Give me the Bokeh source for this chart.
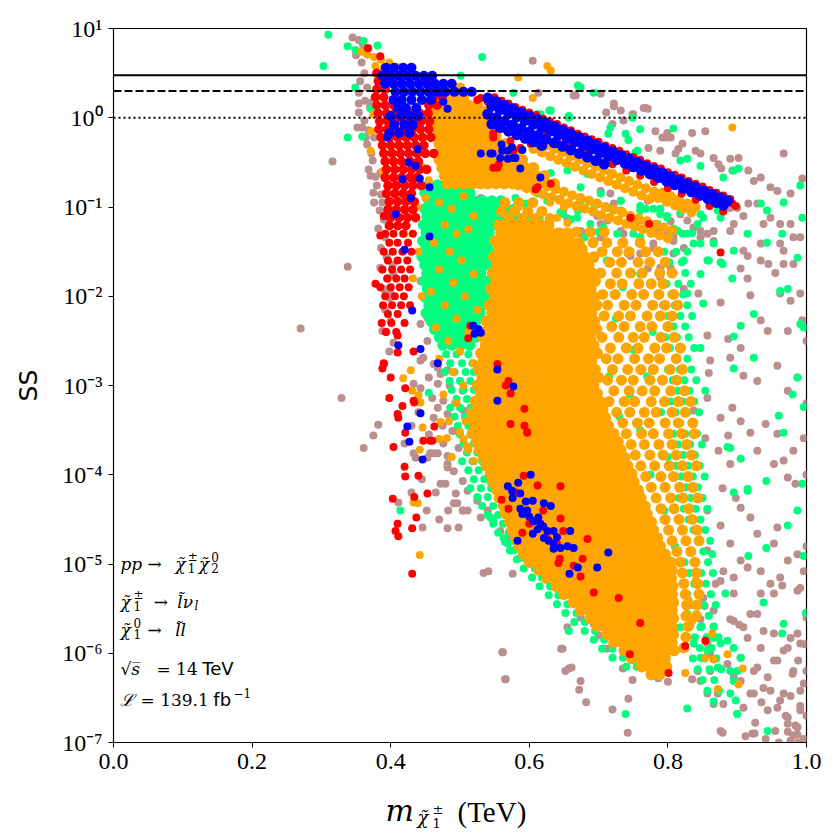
from bokeh.plotting import figure
from bokeh.models import Range1d, FixedTicker, CustomJSTickFormatter, Span, Label
from bokeh.layouts import column
from bokeh.embed import file_html
from bokeh.resources import INLINE

# ---------------- axis / reference data ----------------
X_TICKS = [0.0, 0.2, 0.4, 0.6, 0.8, 1.0]
X_TICK_LABELS = ["0.0", "0.2", "0.4", "0.6", "0.8", "1.0"]
Y_TICKS = [1e-7, 1e-6, 1e-5, 1e-4, 1e-3, 1e-2, 1e-1, 1e0, 1e1]
Y_TICK_LABELS = ["10\u207b\u2077", "10\u207b\u2076", "10\u207b\u2075", "10\u207b\u2074",
                 "10\u207b\u00b3", "10\u207b\u00b2", "10\u207b\u00b9", "10\u2070", "10\u00b9"]
REF_LEVELS = [3.0, 2.0, 1.0]
REF_DASHES = ["solid", "8 3", "2 3"]

COLORS = {"brown": "#BC8F8F", "green": "#00FF7F", "orange": "#FFA500",
          "red": "#FF0000", "blue": "#0000FF"}

# Points: "x:e" -> mass x/1000 TeV, SS = 10**(e/100)
# Rows:   "e|x x x" -> all x/1000 TeV at SS = 10**(e/100)

BROWN_PTS = """
345:90 354:87 360:82 368:78 350:70 358:62 362:50 356:41 366:34 354:28 363:19 370:12 354:6 362:-3 359:-11
368:-14 376:-22 366:-30 372:-40 374:-48 368:-58 378:-66 380:-76 386:-86 376:-95 384:-104 390:-114 382:-124
392:-134 386:-146 394:-156 388:-170 396:-180 390:-192 398:-202 392:-215 400:-228 394:-240 404:-252 398:-262
316:-49 338:-167 270:-236 329:-314 382:-344 375:-356 361:-370
354:16 372:17 375:8 352:-11 364:-22 371:-65 388:-95 375:-84 385:-62 385:-168 404:-175 388:-239 403:-165
395:-180 400:-197 453:-250 530:-90 519:-93 496:-82 482:-56 468:-112 472:-130 468:-179 469:-190 457:-197
482:-141 468:-152 443:-183 453:-224 443:-231 511:-22 519:-29 496:-37 532:-52 547:-63 577:-101 558:-108
605:64 613:28 667:25 703:27 722:16 732:8 711:6 749:4 768:11 771:10 782:-15 799:-17 797:-22 835:-17 854:-15
821:-29 840:-37 847:-40 772:-34 789:-37 811:-40 866:-45 873:-52 877:-57 890:-46 902:-45 893:-59 916:-59
934:-67 967:-40 994:-68 977:-85 958:-82 948:-78 924:-71 916:-96 929:-96 909:-110 890:-101 900:-101 938:-119
948:-112 962:-119 977:-119 981:-134 991:-134 962:-141 967:-149 934:-141 909:-149 915:-155 934:-160 895:-119
890:-127 866:-127 847:-134 837:-123 828:-115 808:-134 785:-127 789:-132 703:-119 678:-129 750:-119 760:-115
655:-113 967:-164 981:-164
664:25 722:13 765:11 720:-7 736:-3 750:4 792:-22 804:-22 815:-35 703:-82 717:-85 732:-93 771:-93 835:-101
857:-130 779:-146 760:-152 746:-155 698:-110 674:-127 736:-130 713:-115 732:-127 760:-134 742:-152 703:-134
808:-138 823:-146 847:-127 866:-138 818:-108 804:-116 649:-104 693:-104 722:-96 693:-138 674:-130 779:-141
799:-130 771:-169 789:-168 804:-168 808:-152
789:-179 808:-197 823:-192 844:-197 857:-244 861:-272 859:-286 876:-207 887:-248 905:-169 915:-180 919:-199
945:-164 955:-174 962:-197 977:-205 991:-197 994:-227 934:-227 944:-239 973:-239 905:-258 890:-269 909:-289
929:-295 958:-278 973:-306 987:-291 996:-359 893:-325 876:-336 905:-340 887:-356 873:-373 890:-388 919:-353
941:-343 958:-354 929:-373 953:-388 967:-384 981:-373 984:-410 973:-403 879:-415 898:-426 876:-457 905:-437
919:-448 929:-466 890:-477 905:-496 880:-508 869:-522 958:-459 953:-477 973:-496 962:-515 987:-489 996:-508
991:-527 953:-533 929:-556 909:-571 938:-575 973:-594 987:-578 953:-608 929:-616 905:-631 919:-645 880:-657
857:-645 876:-687 944:-664 962:-653 973:-679 987:-691 991:-664 996:-634 980:-623 861:-601 843:-620 851:-538
857:-485 857:-440 854:-359 837:-328 857:-314
948:-642 977:-648 991:-659 970:-670 984:-681 955:-687 996:-696 977:-698 941:-696 912:-693 926:-678 991:-642
1000:-670 935:-655 925:-690 960:-700 988:-700 1000:-620 1000:-560 1000:-480 1000:-400 1000:-320 1000:-250 998:-590
576:-511 562:-599 565:-629 646:-595 657:-617 661:-616 672:-641 682:-655 720:-663 743:-651 749:-630 742:-689
866:-657 879:-689 922:-690 909:-661 895:-627 872:-645 924:-645 938:-639 958:-661 973:-672 987:-683
973:-688 981:-692 967:-645 924:-620 944:-627 958:-608 981:-620 991:-589 953:-578 934:-594 905:-605
886:-612 861:-620 847:-631 835:-629 857:-589 895:-564 915:-583 967:-597 977:-583 988:-608 876:-519 895:-515
915:-504 934:-508 948:-522 965:-524 934:-533 987:-530 895:-533 866:-552 919:-556 890:-562 903:-568 853:-547
847:-562
587:-493 612:-504 635:-515 645:-527 674:-560 693:-567 722:-586 750:-605 771:-605 558:-463 569:-471 530:-448
540:-440 525:-429 534:-510 541:-508 561:-599 648:-595 652:-620 566:-629 674:-631 655:-571 496:-432
511:-440 483:-440 504:-440 472:-410 479:-410 494:-421 482:-392 462:-376 482:-379 436:-381 446:-459 482:-460
498:-459 411:-431 760:-608 771:-616 700:-580 712:-595 735:-617 786:-628 800:-632
447:-269 462:-276 455:-291 468:-298 472:-287 482:-283 460:-314 468:-325 462:-336 476:-317 482:-332 491:-351
476:-365 468:-376 457:-376 482:-388 491:-396 504:-407 511:-418 504:-440 491:-432 489:-351 493:-320
504:-306 505:-328 433:-376 453:-381 443:-272 468:-280 433:-298 443:-303 485:-300 475:-345 455:-355 498:-370
440:-330 430:-345 420:-365 445:-405 465:-420 430:-420 452:-440 470:-450
"""

GREEN_DENSE_ROWS = """
-75|455 468 481 494 507
-84|449 462 475 488 501 514
-93|455 468 481 494 507 520 533 546 559
-102|449 462 475 488 501 514 527 540 553 566 579
-111|452 465 478 491 504 517 530 543 556 569 582 595
-120|447 460 473 486 499 512 525 538 551 564 577 590
-129|451 464 477 490 503 516 529 542
-138|446 459 472 485 498 511 524 537
-147|450 463 476 489 502 515 528 541
-156|445 458 471 484 497 510 523 536
-165|449 462 475 488 501 514 527 540
-174|452 465 478 491 504 517 530
-183|448 461 474 487 500 513 526 539
-192|453 466 479 492 505 518 531
-201|449 462 475 488 501 514 527 540
-210|455 468 481 494 507 520 533
-219|451 464 477 490 503 516 529
-228|458 471 484 497 510 523
-237|463 476 489 502 515
-246|470 483 496 509 522
-255|475 488 501 514
"""

GREEN_ROWS = """
-265|480 495 512
-275|486 503 518
-285|478 492 508 520
-295|485 500 515
-305|488 505 520
-315|495 510
-325|486 500 515
-335|492 507 520
-345|497 512
-355|500 515 526
-365|505 520
-375|510 525
-385|503 518 532
-395|512 527
-405|520 535
-415|515 530 545
-425|525 540
-435|532 548
-445|540 555
-455|548 562
-465|555 570
-475|565 580
-485|572 588
-495|582 598
-505|592 608
-515|604 618
-525|615 630
-535|628 642
-545|640 655
-555|652 668
-565|665 680
-575|680 695
-585|693 708
-595|705 720
-605|720 735
-615|740 755
-150|795 812 828
-162|802 820
-174|790 808 825
-186|798 815 833
-198|805 822
-210|793 810 828
-222|800 818 835
-234|808 825
-246|796 813 830
-258|803 820 838
-270|811 828
-282|800 817 834
-294|807 824 841
-306|814 831
-318|804 821 838
-330|811 828 845
-342|818 835
-354|808 825 842
-366|815 832 849
-378|822 839
-390|812 829 846
-402|819 836 853
-414|826 843
-426|816 833 850
-438|823 840 857
-450|830 847
-462|820 837 854
-474|827 844 861
-486|834 851
-498|824 841 858
-510|831 848 865
-522|838 855
-534|828 845 862
-546|835 852 869
-558|842 859
-570|832 849 866
-582|839 856 873
-594|846 863
-606|836 853 870
-618|843 860 877
-630|850 867
-642|857 874
-654|866
"""

GREEN_PTS = """
310:93 303:58 338:80 349:76 361:86 381:81 532:68 501:47 338:-22 359:-21 349:34 371:10 670:36 674:34 693:28
577:28 616:4 629:8 657:0 749:0 717:-11 714:-18 739:-18 743:-25 760:-13 808:-12 753:-39 818:-48 828:-46
847:-54 902:-57 880:-67 991:-76 994:-112 967:-95 934:-96 943:-104 965:-130 915:-130 895:-149 876:-162
859:-160 987:-157 943:-140 835:-129 847:-141 837:-141 821:-130 808:-124 851:-112 876:-112 779:-102 768:-102
799:-110
631:-62 655:-59 684:-63 717:-62 649:-108 669:-112 688:-119 707:-123 727:-130 750:-130 760:-134 785:-119
799:-112 814:-127 828:-130 843:-119 866:-141 612:-85 626:-93 597:-101 580:-90 558:-104 674:-93 693:-96
713:-101 732:-104 760:-104 789:-108 583:8 612:4 631:8 657:2 756:-37 895:-59 674:-78 703:-85 732:-93
760:-99 789:-102 818:-106 847:-108 872:-104
924:-220 905:-233 895:-245 924:-269 895:-281 960:-334 967:-353 980:-310 996:-324 886:-369 905:-382 942:-407
915:-418 895:-420 994:-410 987:-440 973:-457 916:-491 864:-489 942:-482 996:-491 883:-533 938:-543 965:-578
999:-555 828:-662 900:-668 944:-687 739:-668 657:-575 967:-567 843:-533 962:-194 973:-192 991:-231 996:-235
987:-291 823:-160 857:-160 879:-164 847:-175 893:-180 828:-197 851:-208 847:-258 854:-306 890:-370 915:-416
837:-589 847:-605 857:-597 866:-583 876:-589 886:-586 895:-594 890:-620 900:-620 895:-631 890:-645 898:-653
900:-668 866:-571 847:-571 828:-556 818:-571 905:-605 872:-616
414:-440 455:-308 544:-448 548:-452 563:-471 569:-477 577:-485 592:-493 616:-500 621:-511
712:-160 735:-190 760:-175 725:-225 750:-260 778:-240 715:-290 745:-310 770:-290 730:-335 760:-350
790:-330 740:-380 775:-400 800:-380 760:-420 795:-440 780:-465 810:-480
595:-96 615:-112 645:-106 660:-114 580:-104 630:-116 670:-104 680:-134 700:-128
"""

ORANGE_DENSE_ROWS = """
33|490 500
30|472 485
22|480 492 505
14|476 488 500 512 525
7|466 478 490 502 514 526 538
-2|464 476 488 500 512 524 536
-11|466 478 490 502 514 526 538 550
-20|468 480 492 504 516 528 540 552
-29|470 482 494 506 518 530 542 554 566
-38|472 484 496 508 520 532 544 556 568 580
-47|470 482 494 506 518 530 542 554 566 578 590
-56|474 486 498 510 522 534 546 558 570 582 594 606
-65|478 490 502 514 526 538 550 562 574 586 598 610 622
-74|482 494 506 518 530 540 552 564 576 588 600 612 624 636
-120|556 568 580 592 604 616 628
-129|559 571 583 595 607 619 631 643 655
-138|551 563 575 587 599 611 623 635 647 659
-147|556 568 580 592 604 616 628 640 652 664 676
-156|549 561 573 585 597 609 621 633 645 657 669 681 693
-165|554 566 578 590 602 614 626 638 650 662 674 686
-174|547 559 571 583 595 607 619 631 643 655 667 679 691
-183|552 564 576 588 600 612 624 636 648 660 672 684 695
-192|545 557 569 581 593 605 617 629 641 653 665 677 689
-201|550 562 574 586 598 610 622 634 646 658 670 682 694
-210|542 554 566 578 590 602 614 626 638 650 662 674 686 697
-219|546 558 570 582 594 606 618 630 642 654 666 678 690
-228|538 550 562 574 586 598 610 622 634 646 658 670 682 694
-237|541 553 565 577 589 601 613 625 637 649 661 673 685 697
-246|533 545 557 569 581 593 605 617 629 641 653 665 677 689
-255|537 549 561 573 585 597 609 621 633 645 657 669 681 693
-264|530 542 554 566 578 590 602 614 626 638 650 662 674 686 698
-273|534 546 558 570 582 594 606 618 630 642 654 666 678 690
-282|527 539 551 563 575 587 599 611 623 635 647 659 671 683 695
-291|532 544 556 568 580 592 604 616 628 640 652 664 676 688 700
-300|525 537 549 561 573 585 597 609 621 633 645 657 669 681 693
-309|530 542 554 566 578 590 602 614 626 638 650 662 674 686 698
-318|522 534 546 558 570 582 594 606 618 630 642 654 666 678 690 702
-327|526 538 550 562 574 586 598 610 622 634 646 658 670 682 694 706
-336|518 530 542 554 566 578 590 602 614 626 638 650 662 674 686 698 710
-345|522 534 546 558 570 582 594 606 618 630 642 654 666 678 690 702 714
-354|518 530 542 554 566 578 590 602 614 626 638 650 662 674 686 698 710 722
-363|524 536 548 560 572 584 596 608 620 632 644 656 668 680 692 704 716 728
-372|528 540 552 564 576 588 600 612 624 636 648 660 672 684 696 708 720 732
-381|534 546 558 570 582 594 606 618 630 642 654 666 678 690 702 714 726 738
-390|538 550 562 574 586 598 610 622 634 646 658 670 682 694 706 718 730 742
-399|544 556 568 580 592 604 616 628 640 652 664 676 688 700 712 724 736 748
-408|547 559 571 583 595 607 619 631 643 655 667 679 691 703 715 727 739 751
-417|553 565 577 589 601 613 625 637 649 661 673 685 697 709 721 733 745 757
-426|557 569 581 593 605 617 629 641 653 665 677 689 701 713 725 737 749 761
-435|563 575 587 599 611 623 635 647 659 671 683 695 707 719 731 743 755 767
-444|566 578 590 602 614 626 638 650 662 674 686 698 710 722 734 746 758 770
-453|572 584 596 608 620 632 644 656 668 680 692 704 716 728 740 752 764 776
-462|575 587 599 611 623 635 647 659 671 683 695 707 719 731 743 755 767 779
-471|581 593 605 617 629 641 653 665 677 689 701 713 725 737 749 761 773 785
-480|585 597 609 621 633 645 657 669 681 693 705 717 729 741 753 765 777 789
-489|592 604 616 628 640 652 664 676 688 700 712 724 736 748 760 772 784 796
-498|600 612 624 636 648 660 672 684 696 708 720 732 744 756 768 780 792 804
-507|614 626 638 650 662 674 686 698 710 722 734 746 758 770 782 794 806
-516|625 637 649 661 673 685 697 709 721 733 745 757 769 781 793 805
-525|639 651 663 675 687 699 711 723 735 747 759 771 783 795 807
-534|650 662 674 686 698 710 722 734 746 758 770 782 794 806
-543|664 676 688 700 712 724 736 748 760 772 784 796 808
-552|674 686 698 710 722 734 746 758 770 782 794 806
-561|688 700 712 724 736 748 760 772 784 796 808
-570|698 710 722 734 746 758 770 782 794 806
-579|712 724 736 748 760 772 784 796 808
-588|722 734 746 758 770 782 794 806
-597|737 749 761 773 785 797 809
-606|748 760 772 784 796
-615|762 774 786 798
-624|776 788
"""

ORANGE_SEMI_ROWS = """
-95|565 585 605
-105|560 578 598 618
-113|570 590 610 630
-128|668 688 708
-140|672 692 712 735 760
-150|705 727 744 768 786
-162|716 733 757 774 796
-174|703 726 746 763 788 806
-186|717 734 758 776 793
-198|706 724 748 765 787 808
-210|713 737 754 778 796 814
-222|708 729 746 770 789 806
-234|719 737 760 777 800
-246|705 729 750 766 790 809
-258|717 740 757 781 798 818
-270|711 728 752 772 788 812
-282|720 742 761 779 803 821
-294|713 733 750 774 792 813
-306|722 744 763 781 804 824
-318|715 737 752 776 795 815 833
-330|726 745 766 783 806 825
-342|735 756 773 796 815 836
-354|740 762 779 801 820 838
-366|747 766 787 806 827
-378|753 774 793 812 834
-390|761 781 802 821 841
-402|768 790 808 829
-414|776 796 817 836
-426|783 804 822 843
-438|790 809 830
-450|796 816 835
-462|801 821 842
-474|806 826 845
-486|813 833
-498|818 839
-510|821 841
-522|823 843
-534|825 845
-546|827 842
-558|826 841
-570|829
-582|826
-594|823
"""

ORANGE_STRIPES = """
600:-23 612:-27 624:-31 636:-35 648:-39 660:-43 672:-47 684:-51 696:-55 708:-59 720:-63 732:-67 744:-71
756:-75 768:-79 780:-83 606:-35 618:-39 630:-43 642:-47 654:-51 666:-55 678:-59 690:-63 702:-67 714:-71
726:-75 738:-79 750:-83 762:-87 774:-91 792:-84 804:-88 816:-92 828:-96 840:-100 786:-90 798:-94 810:-98
822:-102 834:-106
554:-57 566:-60 578:-63 590:-67 602:-70 614:-73 626:-77 638:-80 650:-83 662:-87 674:-90 686:-93 698:-96
710:-100 722:-103 734:-106 746:-110 758:-113 770:-116 782:-120 794:-123 806:-126 560:-69 572:-72 584:-76
596:-79 608:-82 620:-86 632:-89 644:-92 656:-96 668:-99 680:-102 692:-105 704:-109 716:-112 728:-115
740:-119 752:-122 764:-125 776:-129 788:-132 800:-135
"""

ORANGE_PTS = """
358:74 366:71 376:68 386:65 398:62 410:57 378:58 390:56 626:58 631:53 584:45 605:22 893:-11
470:-95 488:-102 505:-88 520:-110 478:-120 495:-130 512:-125 462:-140 485:-150 502:-160 470:-170 520:-175
490:-185 458:-195 507:-200 478:-210 525:-215 495:-225 465:-235 512:-240 483:-250 500:-262 470:-270 520:-275
490:-285 505:-300 476:-310 495:-320 515:-330 484:-340 500:-352 470:-360 510:-368 488:-380 505:-360 512:-372
520:-385 508:-340
371:-37 375:4 372:-15 388:-60 420:-130 440:-150 432:-180 445:-200 445:-55 455:-70 450:-90 438:-100 429:-283
418:-292 431:-306 440:-311 443:-319 472:-341 446:-347 481:-359 442:-372 433:-431 439:-432 442:-490
782:-617 825:-622 854:-605 864:-578 872:-640 902:-635 908:-617 866:-607 886:-601 835:-564 840:-519 830:-541
585:-100 600:-108 620:-104 640:-112 655:-118 570:-112 610:-118 630:-95 650:-100
"""

RED_ROWS = """
50|380 393
41|382 395 452
32|380 392 458 470
23|378 390 462 474
14|380 392 404 455 467
5|382 394 406 418 430 442 454
-4|384 396 408 420 432 444 456
-13|383 395 407 419 431 443 455
-22|386 398 410 422 434 446 458
-31|388 400 412 424 436 448
-40|390 402 414 426 438 450 462
-49|392 404 416 428 440
-58|394 406 418 430 442 452
-67|392 404 416 428 438
-76|396 408 420 432 444
-85|394 406 418 430
-94|398 410 422 434
-103|396 408 420 432
-112|400 412 424 436
-121|398 410 422
"""

RED_LOW_ROWS = """
-130|392 404 418 432
-140|398 410 425
-150|390 403 417 430
-160|396 410 424
-170|388 402 415 428
-180|395 408 420
-190|385 400 413 426
-200|392 406 419
-210|389 402 415 428
-220|396 410
-230|387 401 420
-240|393 408
"""

RED_PTS = """
550:23 570:16 590:9 610:3 630:-4 650:-11 670:-18 690:-24 710:-31 730:-37 750:-44 770:-51 790:-57 810:-64
830:-71 850:-77 870:-84 890:-91 898:-99 893:-96 560:19 580:12 600:6 620:-1 640:-7 660:-14 680:-21 700:-27
720:-34 740:-41 760:-47 780:-54 800:-61 820:-67 840:-74 860:-81 880:-87
620:-19 640:-25 660:-32 680:-39 700:-45 720:-52 740:-59 760:-65 780:-72 800:-79 820:-85 840:-92 860:-99
880:-105
548:-18 573:-26 587:-34 556:-52 548:-56 612:-78 631:-74 577:-37 602:-29 530:22 746:-112 773:-119 876:-151
609:-80 367:78 385:69 525:20 540:18 548:-22 554:-56 385:-132 378:-186 390:-110 390:-276 400:-291 417:-323
433:-317 460:-362 447:-362
410:-244 433:-262 410:-263 390:-275 388:-281 421:-303 398:-314 434:-319 410:-332 411:-336 421:-353
404:-369 463:-346 457:-362 420:-391 421:-402 440:-401 403:-427 434:-425 453:-421 437:-448 410:-455 407:-463
411:-469 431:-460 431:-511
592:-401 612:-412 645:-413 570:-438 645:-449 649:-463 684:-472 644:-494 677:-494 674:-514 693:-532 729:-538
760:-566 745:-601 801:-622 854:-586 825:-592 597:-353 642:-499 664:-502 580:-420 600:-455 620:-440 640:-478
560:-428 590:-465 625:-470
515:-233 512:-247 554:-276 570:-295 566:-300 573:-309 593:-326 573:-343 593:-345 597:-352
"""

BLUE_ROWS = """
56|393 405 418 430
47|388 400 412 424 436 448 460
38|392 404 416 428 440 452 464 476 488
29|407 419 431 443 455 467 479 492 505 517
20|404 416 430 445 458
11|410 422 437
2|400 415 428 440
-8|405 420 432
-17|398 412 427
"""

BLUE_BAND = """
540:22 552:18 564:14 576:10 588:6 600:2 612:-2 624:-6 636:-10 648:-14 660:-18 672:-22 684:-26 696:-30
708:-34 720:-38 732:-42 744:-46 756:-50 768:-54 780:-58 792:-62 804:-66 816:-70 828:-74 840:-78 852:-82
864:-86 876:-90 886:-93
546:13 558:9 570:5 582:1 594:-3 606:-7 618:-11 630:-15 642:-19 654:-23 666:-27 678:-31 690:-35 702:-39
714:-43 726:-47 738:-51 750:-55 762:-59 774:-63 786:-67 798:-71 810:-75 822:-79 834:-83 846:-87 858:-91
870:-95 880:-98
540:4 552:0 564:-4 576:-8 588:-12 600:-16 612:-20 624:-24 636:-28 648:-32 660:-36 672:-40 684:-44 696:-48
708:-52
546:-7 558:-11 570:-15 582:-19 594:-23 606:-27 618:-31
"""

BLUE_PTS = """
560:-30 575:-33 590:-36 530:-40 544:-40 561:-37 569:-46 580:-45 587:-57 616:-67 547:-40 558:-45 569:-37
577:-45 472:28 476:18 482:10
395:-22 439:-35 426:-50 436:-54 417:-69 442:-68 456:-78 429:-90 407:-108 456:-133 420:-148 431:-216
411:-255 443:-259 468:-275 443:-331 424:-346 427:-363 446:-383 519:-233 527:-237 521:-242 530:-241 554:-282
577:-301 554:-317
602:-400 569:-413 584:-409 576:-426 587:-421 605:-429 587:-438 597:-440 590:-444 621:-432 631:-435 606:-452
616:-455 612:-461 626:-463 635:-463 605:-466 621:-471 628:-474 635:-477 645:-482 635:-483 659:-463 655:-480
664:-482 583:-474 714:-487 670:-504 658:-511 698:-504 575:-418 595:-430 600:-447 613:-448 620:-458 640:-470
"""


def parse_pts(s):
    xs, ys = [], []
    for tok in s.split():
        a, b = tok.split(":")
        xs.append(int(a) / 1000.0)
        ys.append(10 ** (int(b) / 100.0))
    return xs, ys


def parse_rows(s):
    xs, ys = [], []
    for line in s.strip().splitlines():
        e, row = line.split("|")
        for a in row.split():
            xs.append(int(a) / 1000.0)
            ys.append(10 ** (int(e) / 100.0))
    return xs, ys


# drawing order (bottom to top) with marker diameters in px
GROUPS = [
    ("brown", parse_pts(BROWN_PTS), 8),
    ("green", parse_rows(GREEN_DENSE_ROWS), 11),
    ("green", parse_rows(GREEN_ROWS), 8),
    ("green", parse_pts(GREEN_PTS), 8),
    ("orange", parse_rows(ORANGE_DENSE_ROWS), 11.5),
    ("orange", parse_rows(ORANGE_SEMI_ROWS), 11),
    ("orange", parse_pts(ORANGE_STRIPES), 10),
    ("orange", parse_pts(ORANGE_PTS), 8),
    ("red", parse_rows(RED_ROWS), 9.5),
    ("red", parse_rows(RED_LOW_ROWS), 8),
    ("red", parse_pts(RED_PTS), 8),
    ("blue", parse_pts(BLUE_BAND), 11),
    ("blue", parse_rows(BLUE_ROWS), 10),
    ("blue", parse_pts(BLUE_PTS), 8),
]

p = figure(width=824, height=780, x_range=Range1d(0, 1), y_range=Range1d(1e-7, 10),
           y_axis_type="log", output_backend="svg", toolbar_location=None,
           min_border_left=113, min_border_right=18, min_border_top=28, min_border_bottom=38)
p.background_fill_color = "white"
p.border_fill_color = "white"
p.outline_line_color = "black"
p.outline_line_width = 1.2
p.xgrid.grid_line_color = None
p.ygrid.grid_line_color = None

for name, (xs, ys), sz in GROUPS:
    p.scatter(xs, ys, size=sz, fill_color=COLORS[name], line_color=None)

for lvl, dash in zip(REF_LEVELS, REF_DASHES):
    p.add_layout(Span(location=lvl, dimension="width", line_color="black",
                      line_width=2, line_dash=dash))

p.xaxis.ticker = FixedTicker(ticks=X_TICKS)
p.xaxis.formatter = CustomJSTickFormatter(args=dict(tk=X_TICKS, lb=X_TICK_LABELS), code="""
let b = 0, d = 1e9;
for (let i = 0; i < tk.length; i++) { const q = Math.abs(tk[i] - tick); if (q < d) { d = q; b = i; } }
return lb[b];
""")
p.yaxis.ticker = FixedTicker(ticks=Y_TICKS)
p.yaxis.formatter = CustomJSTickFormatter(args=dict(tk=Y_TICKS, lb=Y_TICK_LABELS), code="""
let b = 0, d = 1e9;
for (let i = 0; i < tk.length; i++) { const q = Math.abs(Math.log10(tk[i]) - Math.log10(tick)); if (q < d) { d = q; b = i; } }
return lb[b];
""")
for ax in (p.xaxis[0], p.yaxis[0]):
    ax.major_label_text_font = "Liberation Serif"
    ax.major_label_text_font_size = "24px"
    ax.major_label_text_color = "black"
    ax.major_tick_out = 5
    ax.major_tick_in = 0
    ax.minor_tick_line_color = None
    ax.axis_line_color = "black"
    ax.major_tick_line_color = "black"
    ax.major_label_standoff = 6
p.yaxis.axis_label = "SS"
p.yaxis.axis_label_text_font = "DejaVu Sans"
p.yaxis.axis_label_text_font_style = "normal"
p.yaxis.axis_label_text_font_size = "25px"
p.yaxis.axis_label_text_color = "black"
p.yaxis.axis_label_standoff = 16

# process annotation text (lower left, inside the frame)
M = "DejaVu Serif"
ANNOT = [
    # text, x, baseline SS, y_offset, size, font, style
    ("pp", 0.010, 1.0e-5, 0, "17px", M, "italic"),
    ("\u2192", 0.049, 1.0e-5, 0, "17px", M, "normal"),
    ("\u03c7\u0303", 0.089, 1.0e-5, 0, "17px", M, "italic"),
    ("\u00b1", 0.107, 1.0e-5, 7, "12px", M, "normal"),
    ("1", 0.107, 1.0e-5, -4, "12px", M, "normal"),
    ("\u03c7\u0303", 0.123, 1.0e-5, 0, "17px", M, "italic"),
    ("0", 0.141, 1.0e-5, 7, "12px", M, "normal"),
    ("2", 0.141, 1.0e-5, -4, "12px", M, "normal"),
    ("\u03c7\u0303", 0.010, 3.8e-6, 0, "17px", M, "italic"),
    ("\u00b1", 0.029, 3.8e-6, 7, "12px", M, "normal"),
    ("1", 0.029, 3.8e-6, -4, "12px", M, "normal"),
    ("\u2192", 0.058, 3.8e-6, 0, "17px", M, "normal"),
    ("l\u0303\u03bd", 0.092, 3.8e-6, 0, "17px", M, "italic"),
    ("l", 0.117, 3.8e-6, -4, "12px", M, "italic"),
    ("\u03c7\u0303", 0.010, 1.8e-6, 0, "17px", M, "italic"),
    ("0", 0.029, 1.8e-6, 7, "12px", M, "normal"),
    ("1", 0.029, 1.8e-6, -4, "12px", M, "normal"),
    ("\u2192", 0.049, 1.8e-6, 0, "17px", M, "normal"),
    ("l\u0303l", 0.089, 1.8e-6, 0, "17px", M, "italic"),
    ("\u221as\u0305", 0.010, 6.7e-7, 0, "17px", M, "italic"),
    ("= 14", 0.062, 6.7e-7, 0, "17px", M, "normal"),
    ("TeV", 0.128, 6.7e-7, 0, "18px", "DejaVu Sans", "normal"),
    ("\u2112", 0.010, 3.0e-7, 0, "17px", M, "italic"),
    ("= 139.1", 0.039, 3.0e-7, 0, "17px", M, "normal"),
    ("fb", 0.144, 3.0e-7, 0, "18px", "DejaVu Sans", "normal"),
    ("\u22121", 0.173, 3.0e-7, 7, "12px", M, "normal"),
]
for txt, x, y, yo, fs, font, style in ANNOT:
    p.add_layout(Label(x=x, y=y, y_offset=yo, text=txt, text_font=font, text_font_size=fs,
                       text_font_style=style, text_color="black", text_baseline="alphabetic",
                       text_align="left"))

# x-axis label strip below the plot: m_{chi~_1^pm} (TeV)
QH = 52
q = figure(width=824, height=QH, x_range=Range1d(0, 1), y_range=Range1d(0, QH),
           output_backend="svg", toolbar_location=None,
           min_border_left=113, min_border_right=18, min_border_top=0, min_border_bottom=0)
q.axis.visible = False
q.xgrid.grid_line_color = None
q.ygrid.grid_line_color = None
q.outline_line_color = None
q.background_fill_color = "white"
q.border_fill_color = "white"
XLABEL_PIECES = [
    ("m", 0.3925, 22, "30px", "DejaVu Serif", "italic"),
    ("\u03c7\u0303", 0.4387, 15, "18px", "DejaVu Serif", "italic"),
    ("\u00b1", 0.4603, 23, "13px", "DejaVu Serif", "normal"),
    ("1", 0.4603, 10, "13px", "DejaVu Serif", "normal"),
    ("(TeV)", 0.4964, 21, "29px", "Liberation Serif", "normal"),
]
for txt, x, y, fs, font, style in XLABEL_PIECES:
    q.add_layout(Label(x=x, y=y, text=txt, text_font=font, text_font_size=fs,
                       text_font_style=style, text_color="black", text_baseline="alphabetic",
                       text_align="left"))

layout = column(p, q, spacing=0)
open("out.html", "w").write(file_html(layout, INLINE))
